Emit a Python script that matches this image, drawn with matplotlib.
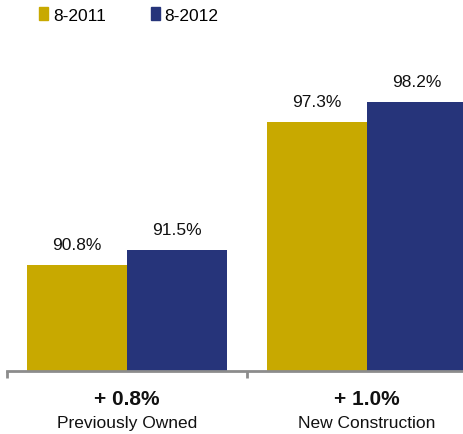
import numpy as np
import matplotlib
matplotlib.use("Agg")
import matplotlib.pyplot as plt
from matplotlib.patches import Patch

plt.rcParams['font.family'] = ['Liberation Sans', 'DejaVu Sans']

# Данные
categories = ['Previously Owned', 'New Construction']
changes = ['+ 0.8%', '+ 1.0%']
series_names = ['8-2011', '8-2012']
values_2011 = [90.8, 97.3]
values_2012 = [91.5, 98.2]

gold = '#C8A900'
navy = '#26347A'

fig = plt.figure(figsize=(4.64, 4.35), dpi=100)
# ось чуть шире холста: правый столбец обрезается краем
ax = fig.add_axes([7 / 464, 63 / 435, 480 / 464, 372 / 435])

x = np.arange(len(categories))
w = 0.4167
b1 = ax.bar(x - w / 2, values_2011, w, color=gold, zorder=2)
b2 = ax.bar(x + w / 2, values_2012, w, color=navy, zorder=2)

for bars, vals in ((b1, values_2011), (b2, values_2012)):
    for rect, v in zip(bars, vals):
        ax.annotate(f'{v:.1f}%', (rect.get_x() + rect.get_width() / 2, v),
                    xytext=(0, 13), textcoords='offset pixels',
                    ha='center', va='bottom', fontsize=12.5, color='#111111')

ax.set_xlim(-0.5, 1.5)
ax.set_ylim(86.0, 102.9)
ax.set_yticks([])
for s in ('top', 'right', 'left'):
    ax.spines[s].set_visible(False)
ax.spines['bottom'].set_color('#8c8c8c')
ax.spines['bottom'].set_linewidth(2)
ax.set_xticks([-0.5, 0.5, 1.5])
ax.set_xticklabels([])
ax.tick_params(axis='x', direction='out', length=5, width=2, color='#8c8c8c')

for xi, ch, cat in zip(x, changes, categories):
    ax.annotate(ch, (xi, 86.0), xytext=(0, -28), textcoords='offset pixels',
                ha='center', va='center', fontsize=15, fontweight='bold',
                color='#111111', annotation_clip=False)
    ax.annotate(cat, (xi, 86.0), xytext=(0, -52), textcoords='offset pixels',
                ha='center', va='center', fontsize=12.5, color='#111111',
                annotation_clip=False)

handles = [Patch(color=gold), Patch(color=navy)]
fig.legend(handles, series_names, loc='upper left', bbox_to_anchor=(32 / 464, 0.997),
           ncol=2, frameon=False, fontsize=12.5, handlelength=0.55,
           handleheight=0.75, handletextpad=0.25, columnspacing=2.6,
           borderaxespad=0)

fig.savefig('out.png', dpi=100)
